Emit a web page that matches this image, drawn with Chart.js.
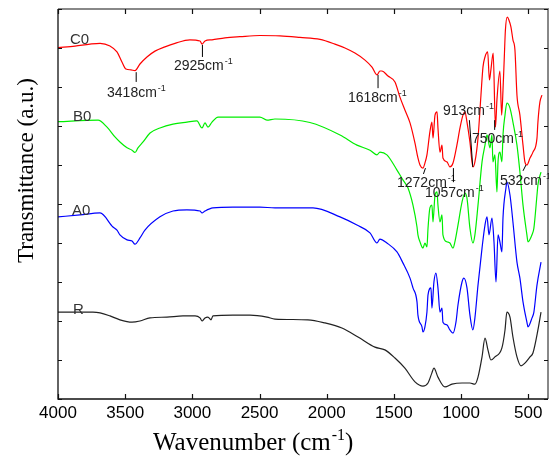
<!DOCTYPE html>
<html>
<head>
<meta charset="utf-8">
<script src="https://cdn.jsdelivr.net/npm/chart.js@4.4.0/dist/chart.umd.min.js"></script>
<style>
  html, body { margin: 0; padding: 0; background: #fff; }
  #wrap { width: 549px; height: 456px; }
</style>
</head>
<body>
<div id="wrap"><canvas id="ftir" width="549" height="456"></canvas></div>
<script>
// FTIR spectra, wavenumber (cm-1) vs transmittance (a.u., curves stacked)
const c0Wave = [4000,3873,3762,3687,3613,3561,3524,3494,3457,3427,3390,3338,3278,3204,3129,3018,2943,2928,2906,2854,2757,2646,2497,2348,2199,2050,1939,1864,1790,1715,1663,1626,1604,1589,1544,1492,1455,1418,1380,1343,1321,1306,1284,1269,1254,1232,1217,1209,1194,1179,1172,1157,1142,1135,1105,1083,1060,1031,1008,986,971,956,934,912,897,874,852,837,822,802,789,778,761,744,733,711,698,688,679,670,656,644,629,614,599,584,562,539,525,510,487,465,435,428,413,398];
const c0Trans = [9.01,9.05,9.10,9.12,9.05,8.90,8.64,8.46,8.44,8.42,8.59,8.77,8.92,9.03,9.12,9.21,9.18,9.10,9.18,9.21,9.26,9.29,9.32,9.31,9.27,9.22,9.10,9.00,8.87,8.69,8.51,8.31,8.41,8.41,8.28,8.13,7.74,7.41,7.08,6.56,6.18,6.00,5.92,6.05,6.26,6.85,7.10,6.69,7.28,7.36,6.95,6.33,6.51,6.18,6.08,5.95,6.05,6.51,6.95,7.28,7.36,7.10,6.59,5.95,6.08,6.69,7.79,8.51,8.77,8.90,8.18,8.44,8.87,6.97,7.67,8.41,7.28,7.92,8.69,9.46,9.79,9.72,9.54,9.21,8.95,7.79,7.28,6.51,6.08,6.00,6.18,6.33,6.69,7.10,7.62,7.79];

const b0Wave = [4000,3702,3635,3576,3539,3486,3449,3427,3405,3367,3315,3241,3144,3040,2966,2928,2906,2884,2854,2809,2698,2497,2445,2385,2125,1901,1775,1678,1626,1604,1552,1477,1433,1395,1358,1328,1321,1306,1284,1269,1254,1246,1232,1217,1209,1194,1179,1172,1157,1142,1135,1105,1083,1060,1046,1023,993,971,956,934,912,897,874,844,822,807,785,770,763,748,733,725,711,696,688,673,659,636,614,584,562,539,510,502,472,458,435,428,405];
const b0Trans = [7.11,7.15,6.97,6.72,6.59,6.44,6.38,6.32,6.44,6.59,6.82,6.95,7.05,7.10,7.13,6.95,7.08,6.97,7.10,7.23,7.23,7.23,7.15,7.18,7.09,6.77,6.51,6.38,6.26,6.33,6.26,5.87,5.62,5.41,4.97,4.41,4.21,4.03,3.87,4.00,3.90,4.38,4.90,4.97,4.54,5.23,5.31,4.97,4.54,4.72,4.21,4.03,4.00,3.87,4.03,4.46,5.05,5.28,5.15,4.38,4.00,4.21,4.97,6.08,6.51,6.77,6.44,6.77,6.08,6.26,5.31,6.08,6.33,6.08,6.77,7.28,7.59,7.46,7.10,6.51,5.82,4.97,4.21,4.03,4.21,4.38,5.23,5.49,5.82];

const a0Wave = [4000,3836,3687,3591,3561,3539,3486,3449,3427,3390,3353,3241,3144,3040,2943,2928,2906,2847,2698,2497,2385,2102,1901,1775,1678,1626,1604,1552,1477,1433,1380,1358,1328,1321,1291,1284,1269,1254,1246,1224,1217,1202,1187,1172,1157,1142,1135,1105,1083,1060,1038,1023,993,979,956,934,912,897,874,844,822,807,792,770,755,740,725,711,696,688,666,659,636,614,584,562,539,510,502,472,458,435,405];
const a0Trans = [4.67,4.72,4.77,4.41,4.33,4.21,4.08,4.05,3.97,4.13,4.33,4.67,4.82,4.85,4.82,4.77,4.82,4.90,4.92,4.92,4.90,4.90,4.67,4.46,4.26,4.00,4.10,4.00,3.77,3.49,3.10,2.85,2.49,2.15,1.85,1.72,1.85,2.23,2.67,2.85,2.33,3.00,3.23,2.85,2.23,2.33,1.97,1.90,1.77,1.69,1.97,2.41,3.00,3.10,2.85,2.15,1.77,2.08,2.92,3.87,4.46,4.67,4.21,4.64,4.03,3.00,4.21,4.03,3.77,4.64,5.41,5.56,5.23,4.54,3.51,3.10,2.49,1.97,1.85,2.08,2.23,2.92,3.51];

const rWave = [4000,3888,3740,3687,3613,3539,3449,3390,3315,3189,3070,2980,2943,2928,2906,2884,2861,2847,2698,2571,2445,2385,2140,2013,1887,1767,1641,1567,1492,1418,1343,1284,1246,1217,1202,1172,1120,1068,993,934,897,874,844,822,800,778,748,696,673,659,636,614,584,554,525,487,465,428,405];
const rTrans = [2.23,2.23,2.23,2.21,2.13,2.03,1.97,2.00,2.08,2.10,2.13,2.13,2.08,2.00,2.08,2.10,2.03,2.13,2.15,2.15,2.10,2.05,2.03,1.95,1.82,1.59,1.33,1.26,1.05,0.79,0.44,0.33,0.41,0.67,0.79,0.56,0.31,0.38,0.41,0.41,0.38,0.56,1.08,1.56,1.26,1.00,1.08,1.31,1.77,2.23,2.10,1.59,1.08,0.85,0.92,1.08,1.18,1.77,2.23];

const xTicks = [4000, 3500, 3000, 2500, 2000, 1500, 1000, 500];

// curve names, with where their labels sit (wavenumber, value)
const curveNames = ['C0', 'B0', 'A0', 'R'];
const nameAt = [[3911, 9.10], [3888, 7.13], [3896, 4.72], [3888, 2.18]];

// band annotations: text position, then pointer line from -> to
const bands = [
  { t: '3418', at: [3635, 7.74], p: [[3418, 8.38], [3418, 8.13]] },
  { t: '2925', at: [3137, 8.44], p: [[2925, 9.08], [2925, 8.77]] },
  { t: '1618', at: [1842, 7.62], p: [[1618, 8.31], [1618, 7.97]] },
  { t: '913',  at: [1135, 7.28], p: [[938, 7.15], [913, 5.95]] },
  { t: '750',  at: [919, 6.56],  p: [[750, 7.15], [750, 6.90]] },
  { t: '1272', at: [1477, 5.44], p: [[1265, 5.92], [1280, 5.77]] },
  { t: '1057', at: [1269, 5.18], p: [[1057, 5.92], [1057, 5.56]] },
  { t: '532',  at: [711, 5.49],  p: [[517, 6.00], [539, 5.85]] }
];

const SANS = '"Liberation Sans", Arial, sans-serif';
const SERIF = '"Liberation Serif", "Times New Roman", serif';

function pts(w, v) {
  return w.map((x, i) => ({ x: x, y: v[i] }));
}

function supText(ctx, base, sup, x, y, size, font) {
  ctx.font = size + 'px ' + font;
  ctx.fillText(base, x, y);
  const w = ctx.measureText(base).width;
  ctx.font = Math.round(size * 0.65) + 'px ' + font;
  ctx.fillText(sup, x + w + 1, y - size * 0.42);
  const w2 = ctx.measureText(sup).width;
  return x + w + 1 + w2;
}

const frame = {
  id: 'frame',
  afterDraw(chart) {
    const { ctx, chartArea: a } = chart;
    const x = chart.scales.x, y = chart.scales.y;
    ctx.save();

    // box
    ctx.strokeStyle = '#888';
    ctx.lineWidth = 2;
    ctx.beginPath();
    ctx.moveTo(a.left, a.top); ctx.lineTo(a.right, a.top); ctx.lineTo(a.right, a.bottom);
    ctx.stroke();
    ctx.strokeStyle = '#111';
    ctx.lineWidth = 1.3;
    ctx.beginPath();
    ctx.moveTo(a.left, a.top); ctx.lineTo(a.left, a.bottom); ctx.lineTo(a.right, a.bottom);
    ctx.stroke();

    // inward ticks
    ctx.lineWidth = 1.2;
    ctx.strokeStyle = '#111';
    ctx.beginPath();
    xTicks.forEach(v => {
      const px = Math.round(x.getPixelForValue(v)) + 0.5;
      ctx.moveTo(px, a.top); ctx.lineTo(px, a.top + 5);
      ctx.moveTo(px, a.bottom); ctx.lineTo(px, a.bottom - 5);
    });
    for (let v = 0; v <= 10; v++) {
      const py = Math.round(y.getPixelForValue(v)) + 0.5;
      ctx.moveTo(a.left, py); ctx.lineTo(a.left + 4, py);
      ctx.moveTo(a.right, py); ctx.lineTo(a.right - 4, py);
    }
    ctx.stroke();

    // curve names
    ctx.fillStyle = '#333';
    ctx.textBaseline = 'alphabetic';
    ctx.textAlign = 'left';
    ctx.font = '15px ' + SANS;
    curveNames.forEach((n, i) => {
      ctx.fillText(n, x.getPixelForValue(nameAt[i][0]), y.getPixelForValue(nameAt[i][1]));
    });

    // band labels and pointers
    ctx.strokeStyle = '#000';
    ctx.lineWidth = 1;
    bands.forEach(b => {
      ctx.beginPath();
      ctx.moveTo(x.getPixelForValue(b.p[0][0]), y.getPixelForValue(b.p[0][1]));
      ctx.lineTo(x.getPixelForValue(b.p[1][0]), y.getPixelForValue(b.p[1][1]));
      ctx.stroke();
      ctx.fillStyle = '#222';
      supText(ctx, b.t + 'cm', '-1', x.getPixelForValue(b.at[0]), y.getPixelForValue(b.at[1]), 14, SANS);
    });

    // axis titles
    ctx.fillStyle = '#000';
    const end = supText(ctx, 'Wavenumber (cm', '-1', 153, 450, 25, SERIF);
    ctx.font = '25px ' + SERIF;
    ctx.fillText(')', end, 450);

    ctx.translate(33, 263);
    ctx.rotate(-Math.PI / 2);
    ctx.font = '23px ' + SERIF;
    ctx.fillText('Transmittance (a.u.)', 0, 0);
    ctx.restore();
  }
};

new Chart(document.getElementById('ftir'), {
  type: 'line',
  data: {
    datasets: [
      { label: 'C0', data: pts(c0Wave, c0Trans), borderColor: '#ff0000', order: 4 },
      { label: 'B0', data: pts(b0Wave, b0Trans), borderColor: '#00ee00', order: 3 },
      { label: 'A0', data: pts(a0Wave, a0Trans), borderColor: '#0000ff', order: 2 },
      { label: 'R', data: pts(rWave, rTrans), borderColor: '#222222', order: 1 }
    ]
  },
  options: {
    responsive: false,
    animation: false,
    layout: { padding: { top: 9, right: 1, left: 0, bottom: 0 } },
    elements: {
      point: { radius: 0 },
      line: { borderWidth: 1.2, cubicInterpolationMode: 'monotone', fill: false }
    },
    plugins: {
      legend: { display: false },
      tooltip: { enabled: false }
    },
    scales: {
      x: {
        type: 'linear',
        reverse: true,
        min: 353,
        max: 4000,
        afterFit: s => { s.height = 57; },
        afterBuildTicks: s => { s.ticks = xTicks.map(v => ({ value: v })); },
        grid: { display: false, drawTicks: false },
        border: { display: false },
        ticks: {
          padding: 4,
          autoSkip: false,
          maxRotation: 0,
          color: '#000',
          font: { family: SANS, size: 17 },
          callback: v => String(v)
        }
      },
      y: {
        min: 0,
        max: 10,
        afterFit: s => { s.width = 58; },
        grid: { display: false, drawTicks: false },
        border: { display: false },
        ticks: { display: false, stepSize: 1 }
      }
    }
  },
  plugins: [frame]
});
</script>
</body>
</html>
